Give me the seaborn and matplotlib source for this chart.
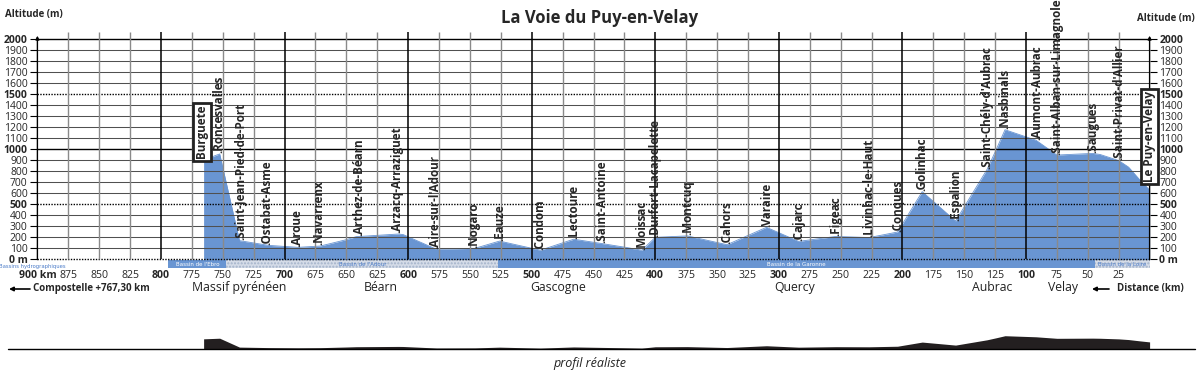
import seaborn as sns
import matplotlib.pyplot as plt
import pandas as pd

# profile: distance to Le Puy (km) and altitude (m)
profile_km = [765.5, 752.5, 736.5, 713, 689, 671, 651, 642, 608, 604, 577, 546, 526, 501, 493,
              466, 443, 424, 411, 408.5, 400, 374, 342, 310, 284, 254, 227, 204, 184, 157,
              131.5, 124.5, 117, 92, 75, 46, 40, 25, 17, 8, 0]
profile_alt = [900, 955, 167, 124, 106, 118, 173, 203, 227, 222, 88, 97, 163, 100, 80,
               180, 140, 106, 80, 105, 197, 210, 130, 288, 160, 205, 195, 245, 612, 345,
               815, 985, 1175, 1080, 945, 960, 950, 895, 835, 720, 627]

town_names = ["Roncesvalles", "Saint-Jean-Pied-de-Port", "Ostabat-Asme", "Aroue", "Navarrenx",
              "Arthez-de-Béarn", "Arzacq-Arraziguet", "Aire-sur-l'Adour", "Nogaro", "Eauze",
              "Condom", "Lectoure", "Saint-Antoine", "Moissac", "Durfort-Lacapelette", "Montcuq",
              "Cahors", "Varaire", "Cajarc", "Figeac", "Livinhac-le-Haut", "Conques", "Golinhac",
              "Espalion", "Saint-Chély-d'Aubrac", "Nasbinals", "Aumont-Aubrac",
              "Saint-Alban-sur-Limagnole", "Saugues", "Saint-Privat-d'Allier"]
town_km = [753.5, 736, 714, 690, 672, 640, 609, 578, 547, 526, 493, 466, 443, 411, 400, 374,
           342, 310, 284, 254, 227, 204, 184, 157, 131.5, 117, 91.5, 75, 45.5, 25]
town_alt = [955, 167, 124, 106, 118, 205, 228, 88, 97, 163, 80, 180, 140, 80, 197, 210,
            130, 288, 160, 205, 195, 245, 612, 345, 815, 1175, 1080, 945, 960, 895]

boxed_names = ["Burguete", "Le Puy-en-Velay"]
boxed_km = [767, 0]
boxed_alt = [915, 700]

basin_names = ["Bassin de l'Ebro", "Bassin de l'Adour", "Bassin de la Garonne", "Bassin de la Loire"]
basin_start = [794, 747, 527, 44]
basin_end = [747, 527, 44, 0]

region_names = ["Massif pyrénéen", "Béarn", "Gascogne", "Quercy", "Aubrac", "Velay"]
region_km = [737, 622, 479, 287, 127, 70]

blue = '#6995d2'
df = pd.DataFrame({'km': profile_km, 'alt': profile_alt})

sns.set_theme(style='white')
plt.rcParams['font.family'] = ['Open Sans', 'DejaVu Sans']

fig = plt.figure(figsize=(12, 3.72), dpi=100)
L, W = 37.4 / 1200, 1112.2 / 1200
ax = fig.add_axes([L, 1 - 268.35 / 372, W, 237.05 / 372])
ax.set_xlim(900, 0)
ax.set_ylim(-85, 2070)
for s in ax.spines.values():
    s.set_visible(False)

# profile
ax.fill_between(df['km'], df['alt'], -10, color=blue, lw=0, zorder=1)
sns.lineplot(data=df, x='km', y='alt', color=blue, lw=0.6, ax=ax, zorder=1)
ax.set_xlabel('')
ax.set_ylabel('')

# grid
for y in range(100, 2001, 100):
    if y in (1000, 2000):
        ax.hlines(y, 900, 0, color='black', lw=1.0, zorder=2)
    elif y in (500, 1500):
        ax.hlines(y, 900, 0, color='black', lw=1.0, ls=(0, (1, 1)), zorder=2)
    else:
        ax.hlines(y, 900, 0, color='#505050', lw=0.75, zorder=2)
ax.hlines(0, 900, 0, color='black', lw=1.0, ls=(0, (1, 1)), zorder=2)
for k in range(875, 0, -25):
    if k % 100 == 0:
        ax.vlines(k, 0, 2065, color='black', lw=1.1, zorder=2)
    else:
        ax.vlines(k, 0, 2065, color='#8a8a8a', lw=1.0, zorder=2)
for k in (900, 0):
    ax.annotate('', xy=(k, 2030), xytext=(k, -5),
                arrowprops=dict(arrowstyle='-|>', lw=1, color='black', mutation_scale=5,
                                shrinkA=0, shrinkB=0), zorder=3)

# basins band
for i, name in enumerate(basin_names):
    if i % 2 == 0:
        ax.fill_between([basin_start[i], basin_end[i]], -84, -12, color=blue, lw=0, zorder=1)
        tc = 'white'
    else:
        ax.fill_between([basin_start[i], basin_end[i]], -84, -12, facecolor='#d5dce8',
                        edgecolor='#a3b2c9', hatch='.....', lw=0, zorder=1)
        tc = '#4a7bc8'
    ax.text((basin_start[i] + basin_end[i]) / 2, -50, name, color=tc, fontsize=4,
            ha='center', va='center', family=['Liberation Sans Narrow', 'DejaVu Sans'], zorder=3)
ax.text(904, -66, 'Bassins hydrographiques', color='#4a7bc8', fontsize=3.8, ha='center',
        va='center', family=['Liberation Sans Narrow', 'DejaVu Sans'], clip_on=False)

# ticks
xt = list(range(900, 0, -25))
ax.set_xticks(xt)
ax.set_xticklabels(['900 km' if k == 900 else str(k) for k in xt], fontsize=7.6)
for k, lab in zip(xt, ax.get_xticklabels()):
    if k % 100 == 0:
        lab.set_fontweight('bold')
ax.tick_params(axis='x', length=0, pad=1.5)

yt = list(range(0, 2001, 100))
ax.set_yticks(yt)
ax.set_yticklabels(['0 m' if y == 0 else str(y) for y in yt], fontsize=7.5)
ax.yaxis.set_ticks_position('both')
ax.tick_params(axis='y', left=True, right=True, labelleft=True, labelright=True,
               length=5, width=0.8, pad=2, color='black')
for y, t in zip(yt, ax.yaxis.get_major_ticks()):
    for lab in (t.label1, t.label2):
        lab.set_fontsize(7.5)
        if y % 500 == 0:
            lab.set_fontweight('bold')

# town labels
for name, k, a in zip(town_names, town_km, town_alt):
    ax.text(k, a + 5, '.' + name, rotation=90, ha='center', va='bottom', fontsize=8.4,
            fontweight='bold', zorder=4, clip_on=False)
for name, k, a in zip(boxed_names, boxed_km, boxed_alt):
    ax.text(k, a, name, rotation=90, ha='center', va='bottom', fontsize=8.4,
            fontweight='bold', zorder=5, clip_on=False,
            bbox=dict(boxstyle='square,pad=0.2', fc='white', ec='#222222', lw=2))

# region labels
for name, k in zip(region_names, region_km):
    ax.text(k, -262, name, ha='center', va='center', fontsize=8.8, color='#222222', clip_on=False)

fig.text(0.5, 1 - 18 / 372, 'La Voie du Puy-en-Velay', ha='center', va='center',
         fontsize=12, fontweight='bold')
fig.text(5 / 1200, 1 - 14 / 372, 'Altitude (m)', ha='left', va='center', fontsize=7, fontweight='bold')
fig.text(1195 / 1200, 1 - 18 / 372, 'Altitude (m)', ha='right', va='center', fontsize=7, fontweight='bold')
fig.text(33 / 1200, 1 - 289 / 372, 'Compostelle +767,30 km', ha='left', va='center', fontsize=7,
         fontweight='bold')
fig.text(1117 / 1200, 1 - 289 / 372, 'Distance (km)', ha='left', va='center', fontsize=7,
         fontweight='bold')
for x0, x1 in ((30, 9), (1109, 1092)):
    ax.annotate('', xy=(x1 / 1200, 1 - 289 / 372), xytext=(x0 / 1200, 1 - 289 / 372),
                xycoords='figure fraction', textcoords='figure fraction',
                arrowprops=dict(arrowstyle='-|>', lw=1.2, color='black', mutation_scale=6,
                                shrinkA=0, shrinkB=0))

# realistic profile
ax2 = fig.add_axes([L, 1 - 349 / 372, W, 20 / 372])
ax2.set_xlim(900, 0)
ax2.set_ylim(0, 1770)
ax2.axis('off')
ax2.fill_between(df['km'], df['alt'], 0, color='#231f20', lw=0)
ax2.plot([923.8, -37], [0, 0], color='black', lw=1, clip_on=False)
fig.text(590 / 1200, 1 - 364 / 372, 'profil réaliste', ha='center', va='center', fontsize=9,
         style='italic', color='#222222')

fig.savefig('out.png', dpi=100)
